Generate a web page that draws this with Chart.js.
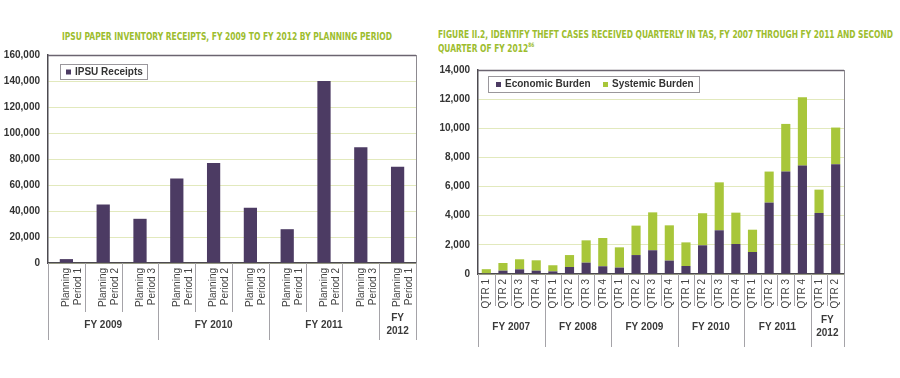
<!DOCTYPE html>
<html>
<head>
<meta charset="utf-8">
<script src="https://cdn.jsdelivr.net/npm/chart.js@4.4.1/dist/chart.umd.min.js"></script>
<style>
  body { margin: 0; background: #fff; width: 900px; height: 378px; overflow: hidden; position: relative; }
  .title {
    position: absolute; color: #9dbd2e; font-family: "DejaVu Sans Condensed", "Liberation Sans", sans-serif;
    font-weight: bold; font-size: 10.5px; white-space: nowrap; line-height: 14px; transform-origin: 0 0;
  }
  .title sup { font-size: 6px; vertical-align: 5px; line-height: 0; }
  canvas { position: absolute; top: 0; }
</style>
</head>
<body>
<div class="title" id="t1" style="left:62px; top:29px;">IPSU PAPER INVENTORY RECEIPTS, FY 2009 TO FY 2012 BY PLANNING PERIOD</div>
<div class="title" id="t2" style="left:438px; top:27px;"><span>FIGURE II.2, IDENTIFY THEFT CASES RECEIVED QUARTERLY IN TAS, FY 2007 THROUGH FY 2011 AND SECOND</span><br>QUARTER OF FY 2012<sup>86</sup></div>
<canvas id="ipsuChart" width="450" height="378" style="left:0px;"></canvas>
<canvas id="theftChart" width="470" height="378" style="left:430px;"></canvas>
<script>
// squeeze the titles to the condensed width of the original
const t1 = document.getElementById('t1');
t1.style.transform = 'scaleX(' + (330 / t1.getBoundingClientRect().width) + ')';
const t2 = document.getElementById('t2');
t2.style.transform = 'scaleX(' + (455 / t2.querySelector('span').getBoundingClientRect().width) + ')';

// Left chart: IPSU receipts by planning period
const periodLabels = [
    ['Planning', 'Period 1'], ['Planning', 'Period 2'], ['Planning', 'Period 3'],
    ['Planning', 'Period 1'], ['Planning', 'Period 2'], ['Planning', 'Period 3'],
    ['Planning', 'Period 1'], ['Planning', 'Period 2'], ['Planning', 'Period 3'],
    ['Planning', 'Period 1']
];
const ipsuReceipts = [3000, 45000, 34000, 65000, 77000, 42500, 26000, 140000, 89000, 74000];
const ipsuGroupNames = ['FY 2009', 'FY 2010', 'FY 2011', ['FY', '2012']];
const ipsuGroupSizes = [3, 3, 3, 1];

// Right chart: identity theft cases by quarter
const quarterLabels = [
    'QTR 1', 'QTR 2', 'QTR 3', 'QTR 4',
    'QTR 1', 'QTR 2', 'QTR 3', 'QTR 4',
    'QTR 1', 'QTR 2', 'QTR 3', 'QTR 4',
    'QTR 1', 'QTR 2', 'QTR 3', 'QTR 4',
    'QTR 1', 'QTR 2', 'QTR 3', 'QTR 4',
    'QTR 1', 'QTR 2'
];
const economicBurden = [50, 230, 320, 230, 180, 480, 780, 530, 440, 1300, 1630, 920, 550, 1970, 3000, 2060, 1510, 4900, 7030, 7440, 4190, 7530];
const systemicBurden = [280, 525, 690, 710, 420, 820, 1530, 1940, 1390, 2020, 2600, 2420, 1620, 2200, 3290, 2150, 1530, 2130, 3270, 4690, 1600, 2520];
const theftGroupNames = ['FY 2007', 'FY 2008', 'FY 2009', 'FY 2010', 'FY 2011', ['FY', '2012']];
const theftGroupSizes = [4, 4, 4, 4, 4, 2];

const PURPLE = '#4c3b63';
const GREEN = '#a8c63a';
const GRID = '#e2e9bd';
const FONT = 'Liberation Sans, Arial, sans-serif';

/**
 * Frame, group labels under the axis and the boxed legend
 */
const decorPlugin = {
    id: 'decor',
    afterDraw(chart, args, opts) {
        const ctx = chart.ctx;
        const area = chart.chartArea;
        const x = chart.scales.x;
        const n = chart.data.labels.length;
        const mid = i => (x.getPixelForValue(i - 1) + x.getPixelForValue(i)) / 2;

        ctx.save();
        // top and right frame
        ctx.lineWidth = 1.5;
        ctx.strokeStyle = '#6b6470';
        ctx.beginPath();
        ctx.moveTo(area.left, area.top + 0.5);
        ctx.lineTo(area.right, area.top + 0.5);
        ctx.stroke();
        ctx.lineWidth = 1;
        ctx.strokeStyle = '#8d8a90';
        ctx.beginPath();
        ctx.moveTo(area.right + 0.5, area.top);
        ctx.lineTo(area.right + 0.5, area.bottom);
        ctx.stroke();

        // separators between categories and groups
        const groupEnds = [];
        let acc = 0;
        opts.groupSizes.forEach(s => { acc += s; groupEnds.push(acc); });
        ctx.strokeStyle = '#a5a3a8';
        for (let i = 0; i <= n; i++) {
            const px = i === 0 ? area.left : (i === n ? area.right : mid(i));
            const isGroup = i === 0 || groupEnds.includes(i);
            ctx.beginPath();
            ctx.moveTo(Math.round(px) + 0.5, area.bottom);
            ctx.lineTo(Math.round(px) + 0.5, area.bottom + (isGroup ? opts.groupLine : opts.tickLine));
            ctx.stroke();
        }

        // group labels
        ctx.fillStyle = '#3a3a3a';
        ctx.font = 'bold 10px ' + FONT;
        ctx.textAlign = 'center';
        ctx.textBaseline = 'middle';
        let start = 0;
        opts.groupNames.forEach((name, g) => {
            const end = start + opts.groupSizes[g];
            const l = start === 0 ? area.left : mid(start);
            const r = end === n ? area.right : mid(end);
            const cx = (l + r) / 2;
            const lines = Array.isArray(name) ? name : [name];
            lines.forEach((t, k) => {
                const cy = area.bottom + opts.groupY + (k - (lines.length - 1) / 2) * 13;
                ctx.fillText(t, cx, cy);
            });
            start = end;
        });

        // legend box
        const lg = opts.legend;
        ctx.fillStyle = '#fff';
        ctx.fillRect(lg.x, lg.y, lg.w, lg.h);
        ctx.strokeStyle = '#9a979c';
        ctx.strokeRect(lg.x + 0.5, lg.y + 0.5, lg.w, lg.h);
        ctx.textAlign = 'left';
        ctx.font = 'bold 10px ' + FONT;
        chart.data.datasets.forEach((ds, k) => {
            const ix = lg.x + lg.items[k];
            const cy = lg.y + lg.h / 2 + 0.5;
            ctx.fillStyle = ds.backgroundColor;
            ctx.fillRect(ix, cy - 2.5, 5, 5);
            ctx.fillStyle = '#333';
            ctx.fillText(ds.label, ix + 9, cy);
        });
        ctx.restore();
    }
};

function baseOptions(yMax, yStep, xHeight, padding, barPct, decor) {
    return {
        responsive: false,
        animation: false,
        layout: { padding: padding },
        plugins: {
            legend: { display: false },
            tooltip: { enabled: false },
            decor: decor
        },
        datasets: { bar: { barPercentage: barPct, categoryPercentage: 1 } },
        scales: {
            x: {
                stacked: true,
                grid: { display: false, drawTicks: false },
                border: { display: true, color: '#4d4a50', width: 1.5 },
                ticks: {
                    color: '#444',
                    font: { size: 10, family: FONT },
                    minRotation: 90,
                    maxRotation: 90,
                    padding: 5,
                    autoSkip: false
                },
                afterFit: s => { s.height = xHeight; }
            },
            y: {
                stacked: true,
                min: 0,
                max: yMax,
                grid: { color: GRID, drawTicks: false },
                border: { display: true, color: '#4d4a50', width: 1.5 },
                ticks: {
                    stepSize: yStep,
                    color: '#333',
                    padding: 8,
                    font: { size: 10, weight: 'bold', family: FONT },
                    callback: v => v.toLocaleString('en-US')
                },
                afterFit: s => { s.width = 48 - padding.left; }
            }
        }
    };
}

new Chart(document.getElementById('ipsuChart'), {
    type: 'bar',
    data: {
        labels: periodLabels,
        datasets: [{ label: 'IPSU Receipts', data: ipsuReceipts, backgroundColor: PURPLE }]
    },
    options: baseOptions(160000, 20000, 115, { left: 2, right: 34, top: 55, bottom: 0 }, 0.36, {
        groupNames: ipsuGroupNames,
        groupSizes: ipsuGroupSizes,
        tickLine: 49,
        groupLine: 77,
        groupY: 62,
        legend: { x: 60, y: 64, w: 87, h: 15, items: [6] }
    }),
    plugins: [decorPlugin]
});

new Chart(document.getElementById('theftChart'), {
    type: 'bar',
    data: {
        labels: quarterLabels,
        datasets: [
            { label: 'Economic Burden', data: economicBurden, backgroundColor: PURPLE },
            { label: 'Systemic Burden', data: systemicBurden, backgroundColor: GREEN }
        ]
    },
    options: baseOptions(14000, 2000, 104, { left: 2, right: 56, top: 70, bottom: 0 }, 0.55, {
        groupNames: theftGroupNames,
        groupSizes: theftGroupSizes,
        tickLine: 32,
        groupLine: 73,
        groupY: 53,
        legend: { x: 58, y: 76, w: 211, h: 16, items: [8, 115] }
    }),
    plugins: [decorPlugin]
});
</script>
</body>
</html>
